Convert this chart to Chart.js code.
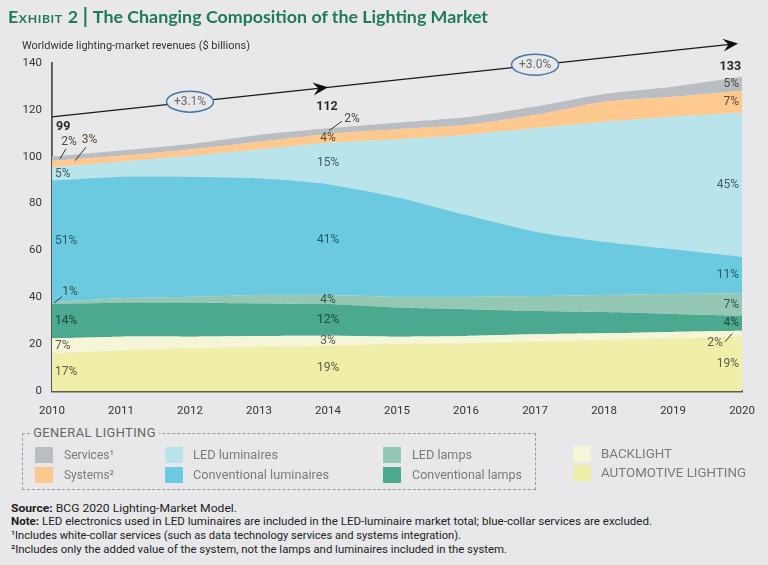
<!DOCTYPE html>
<html><head><meta charset="utf-8">
<script src="https://cdn.jsdelivr.net/npm/chart.js@4.4.1/dist/chart.umd.min.js"></script>
<style>
html,body{margin:0;padding:0;background:#e8e8ea;}
body{width:768px;height:565px;position:relative;overflow:hidden;font-family:Roboto,"Open Sans",sans-serif;}
#wrap{position:absolute;left:0;top:0;width:768px;height:430px;}
.t{position:absolute;white-space:nowrap;transform-origin:left center;display:inline-block;}
#title{left:8px;top:5px;font-family:Lato,"Open Sans",sans-serif;font-weight:bold;font-size:17.5px;color:#1f7a56;line-height:24px;}
#title .ex{font-variant:small-caps;letter-spacing:0.6px;}
#title .bar{display:inline-block;width:2px;height:20px;background:#1f7a56;vertical-align:-4px;margin:0 6px 0 6px;}
#sub{left:22px;top:38px;font-size:11px;color:#333;line-height:16px;}
#box{position:absolute;left:22px;top:433px;width:512px;height:55px;border:1.5px dashed #9a9a9a;}
#gl{left:30px;top:425px;font-size:12px;color:#666;letter-spacing:0.4px;background:#e8e8ea;padding:0 3px;line-height:16px;}
.sw{position:absolute;width:18px;height:16px;}
.lg{font-size:12.5px;color:#7a7a7a;line-height:16px;}
.nt{font-size:11px;color:#222;line-height:14px;left:11px;}
.nt b{font-weight:bold;}
</style></head>
<body>
<div id="wrap"><canvas id="c"></canvas></div>
<div class="t" id="title" data-w="480"><span class="ex">Exhibit 2</span><span class="bar"></span>The Changing Composition of the Lighting Market</div>
<div class="t" id="sub" data-w="228">Worldwide lighting-market revenues ($ billions)</div>
<div id="box"></div>
<div class="t" id="gl" data-w="129">GENERAL LIGHTING</div>
<div id="legend"></div>
<div class="t nt" style="top:502px" data-w="226"><b>Source:</b> BCG 2020 Lighting-Market Model.</div>
<div class="t nt" style="top:515px" data-w="641"><b>Note:</b> LED electronics used in LED luminaires are included in the LED-luminaire market total; blue-collar services are excluded.</div>
<div class="t nt" style="top:529px" data-w="450">¹Includes white-collar services (such as data technology services and systems integration).</div>
<div class="t nt" style="top:543px" data-w="496">²Includes only the added value of the system, not the lamps and luminaires included in the system.</div>
<script>
// ---------- DATA ----------
const years = ['2010','2011','2012','2013','2014','2015','2016','2017','2018','2019','2020'];
const automotive = [16.1, 17.2, 18.2, 18.9, 19.3, 20.1, 20.3, 21.0, 21.8, 22.5, 23.2];
const backlight  = [6.4, 6.0, 5.0, 4.6, 4.3, 3.1, 3.2, 3.2, 2.8, 2.7, 2.5];
const convLamps  = [14.6, 14.5, 14.5, 13.9, 13.5, 12.4, 11.4, 9.9, 9.1, 7.7, 6.4];
const ledLamps   = [0.9, 1.9, 2.5, 3.6, 3.9, 4.6, 5.3, 6.4, 7.3, 8.5, 9.6];
const convLum    = [51.8, 51.9, 51.3, 49.8, 47.3, 42.5, 34.9, 27.5, 22.7, 19.1, 15.6];
const ledLum     = [5.7, 6.4, 8.8, 12.3, 17.7, 24.7, 34.2, 44.1, 51.2, 56.6, 61.5];
const systems    = [2.7, 2.5, 2.8, 3.3, 3.7, 4.3, 4.2, 5.7, 8.6, 8.5, 9.4];
const services   = [1.8, 2.2, 2.3, 2.9, 2.4, 2.8, 3.3, 3.6, 3.3, 4.3, 5.9];
const seriesNames = ['Automotive lighting','Backlight','Conventional lamps','LED lamps','Conventional luminaires','LED luminaires','Systems','Services'];
const yTicks = [0, 20, 40, 60, 80, 100, 120, 140];
const labelYearIdx = [0, 4, 10];
const pct2010 = ['17%','7%','14%','1%','51%','5%','3%','2%'];
const pct2014 = ['19%','3%','12%','4%','41%','15%','4%','2%'];
const pct2020 = ['19%','2%','4%','7%','11%','45%','7%','5%'];
const totals = ['99','112','133'];
const trendIdx = [0, 10];
const trendVals = [117, 148.5];
const arrowIdx = [4, 10];
const cagrIdx = [2, 7];
const cagrLabels = ['+3.1%','+3.0%'];

// ---------- STYLES ----------
const series = [automotive, backlight, convLamps, ledLamps, convLum, ledLum, systems, services];
const colors = ['#efefaa','#f5f5d8','#4aa98f','#94c7b4','#6bcae0','#b9e4ec','#fdc98f','#babdc1'];
const labelColors = ['#5c5c48','#5c5c50','#1d4a3e','#34524a','#245a69','#3d5d68','#5a4a38','#4a4a4a'];
const pctSets = [pct2010, pct2014, pct2020];
// special labels with leader lines (pixel offsets from the layer mid-point)
const special = {
  '0-7': {dx:17, dy:-17, l:[8,0,14,-10]},
  '0-6': {dx:37.5, dy:-24, l:[23,-3.4,34,-16.8]},
  '0-3': {dx:18, dy:-11.5, l:[2,0,10,-6.3]},
  '4-7': {dx:24, dy:-12.5, l:[1,-0.5,14,-10]},
  '10-1': {dx:-27, dy:9.6, l:[-10,0,-17,8]}
};
const totalPos = [{dx:4, dy:-30, align:'left'}, {dx:-1, dy:-21, align:'center'}, {dx:-1, dy:-10, align:'right'}];

// ---------- LEGEND ----------
const legendItems = [
  {i:7, text:'Services¹', sx:35, tx:64, y:455, w:50},
  {i:6, text:'Systems²', sx:35, tx:64, y:475, w:50},
  {i:5, text:'LED luminaires', sx:165, tx:193, y:455, w:85},
  {i:4, text:'Conventional luminaires', sx:165, tx:193, y:475, w:136},
  {i:3, text:'LED lamps', sx:383, tx:412, y:455, w:60},
  {i:2, text:'Conventional lamps', sx:383, tx:412, y:475, w:110},
  {i:1, text:'BACKLIGHT', sx:573, tx:601, y:454, w:71},
  {i:0, text:'AUTOMOTIVE LIGHTING', sx:573, tx:601, y:473, w:145}
];
const lg = document.getElementById('legend');
legendItems.forEach(it=>{
  const s=document.createElement('div'); s.className='sw';
  s.style.left=it.sx+'px'; s.style.top=(it.y-8)+'px'; s.style.background=colors[it.i];
  lg.appendChild(s);
  const t=document.createElement('div'); t.className='t lg'; t.textContent=it.text;
  t.style.left=it.tx+'px'; t.style.top=(it.y-8)+'px'; t.dataset.w=it.w;
  lg.appendChild(t);
});
function fitAll(){
  document.querySelectorAll('[data-w]').forEach(el=>{
    el.style.transform='none';
    const r=el.getBoundingClientRect().width;
    if(r>0) el.style.transform='scaleX('+(parseFloat(el.dataset.w)/r)+')';
  });
}

// ---------- PLUGINS ----------
const labelPlugin = {
  id:'pctLabels',
  afterDatasetsDraw(chart){
    const {ctx, scales:{x, y}} = chart;
    ctx.save();
    ctx.textBaseline='middle';
    labelYearIdx.forEach((yi,k)=>{
      const texts=pctSets[k];
      const px=x.getPixelForValue(yi);
      let cum=0;
      series.forEach((s,li)=>{
        const v=s[yi]; const mid=cum+v/2; cum+=v;
        const py=y.getPixelForValue(mid);
        ctx.font='12px Roboto';
        ctx.fillStyle=labelColors[li];
        const sp=special[yi+'-'+li];
        if(sp){
          ctx.textAlign='center';
          ctx.fillText(texts[li], px+sp.dx, py+sp.dy);
          ctx.strokeStyle='#333'; ctx.lineWidth=1;
          ctx.beginPath(); ctx.moveTo(px+sp.l[0],py+sp.l[1]); ctx.lineTo(px+sp.l[2],py+sp.l[3]); ctx.stroke();
        } else if(k===0){ ctx.textAlign='left'; ctx.fillText(texts[li], px+3, py); }
        else if(k===1){ ctx.textAlign='center'; ctx.fillText(texts[li], px, py); }
        else { ctx.textAlign='right'; ctx.fillText(texts[li], px-3, py); }
      });
      const tp=totalPos[k];
      ctx.font='bold 12.5px Roboto'; ctx.fillStyle='#2a2a2a'; ctx.textAlign=tp.align;
      ctx.fillText(totals[k], px+tp.dx, y.getPixelForValue(cum)+tp.dy);
    });
    ctx.restore();
  }
};
const trendPlugin = {
  id:'trend',
  afterDraw(chart){
    const {ctx, scales:{x, y}} = chart;
    const x0=x.getPixelForValue(trendIdx[0]), y0=y.getPixelForValue(trendVals[0]);
    const x1=x.getPixelForValue(trendIdx[1]), y1=y.getPixelForValue(trendVals[1]);
    const at=i=>{const t=(i-trendIdx[0])/(trendIdx[1]-trendIdx[0]); return [x0+(x1-x0)*t, y0+(y1-y0)*t];};
    const ang=Math.atan2(y1-y0,x1-x0);
    ctx.save();
    ctx.strokeStyle='#1a1a1a'; ctx.lineWidth=1.3;
    const end=[x1-4*Math.cos(ang), y1-4*Math.sin(ang)];
    ctx.beginPath(); ctx.moveTo(x0,y0); ctx.lineTo(end[0]-6*Math.cos(ang),end[1]-6*Math.sin(ang)); ctx.stroke();
    arrowIdx.forEach((ai,n)=>{
      let p=at(ai); if(n===arrowIdx.length-1) p=end;
      const L=15, W=6.5, c=Math.cos(ang), s=Math.sin(ang);
      ctx.fillStyle='#111';
      ctx.beginPath();
      ctx.moveTo(p[0],p[1]);
      ctx.lineTo(p[0]-L*c+W*s, p[1]-L*s-W*c);
      ctx.lineTo(p[0]-0.65*L*c, p[1]-0.65*L*s);
      ctx.lineTo(p[0]-L*c-W*s, p[1]-L*s+W*c);
      ctx.closePath(); ctx.fill();
    });
    cagrIdx.forEach((ci,n)=>{
      const p=at(ci);
      ctx.beginPath(); ctx.ellipse(p[0],p[1]-0.5,23.5,10.5,0,0,Math.PI*2);
      ctx.fillStyle='#e8e8ea'; ctx.fill();
      ctx.strokeStyle='#4a78a6'; ctx.lineWidth=1.5; ctx.stroke();
      ctx.fillStyle='#6a6a6a'; ctx.font='12px Roboto'; ctx.textAlign='center'; ctx.textBaseline='middle';
      ctx.fillText(cagrLabels[n], p[0], p[1]);
    });
    ctx.restore();
  }
};

// ---------- CHART ----------
const datasets = series.map((s,i)=>({
  label: seriesNames[i], data: s, backgroundColor: colors[i], borderWidth:0,
  pointRadius:0, fill: i===0 ? 'origin' : '-1', tension:0.2
}));
const tickFont = {family:'Roboto', size:11.5};
function start(){
  fitAll();
  new Chart(document.getElementById('c'), {
    type:'line',
    data:{labels:years, datasets},
    options:{
      responsive:true, maintainAspectRatio:false, animation:false,
      layout:{padding:{top:63,right:24,left:0,bottom:0}},
      plugins:{legend:{display:false}, tooltip:{enabled:false}},
      scales:{
        x:{
          ticks:{color:'#333', font:tickFont, padding:13, maxRotation:0, autoSkip:false},
          grid:{color:'transparent', drawTicks:false},
          border:{display:true, color:'#5f5d4f', width:2.5},
          afterFit(s){ s.height=39; }
        },
        y:{
          stacked:true, min:0, max:140,
          afterBuildTicks(s){ s.ticks = yTicks.map(v=>({value:v})); },
          ticks:{color:'#333', font:tickFont, padding:10},
          grid:{color:'transparent', drawTicks:false},
          border:{display:true, color:'#555', width:1.8},
          afterFit(s){ s.width=52; }
        }
      }
    },
    plugins:[labelPlugin, trendPlugin]
  });
}
if(document.fonts && document.fonts.ready){ document.fonts.ready.then(start); } else start();
</script>
</body></html>
